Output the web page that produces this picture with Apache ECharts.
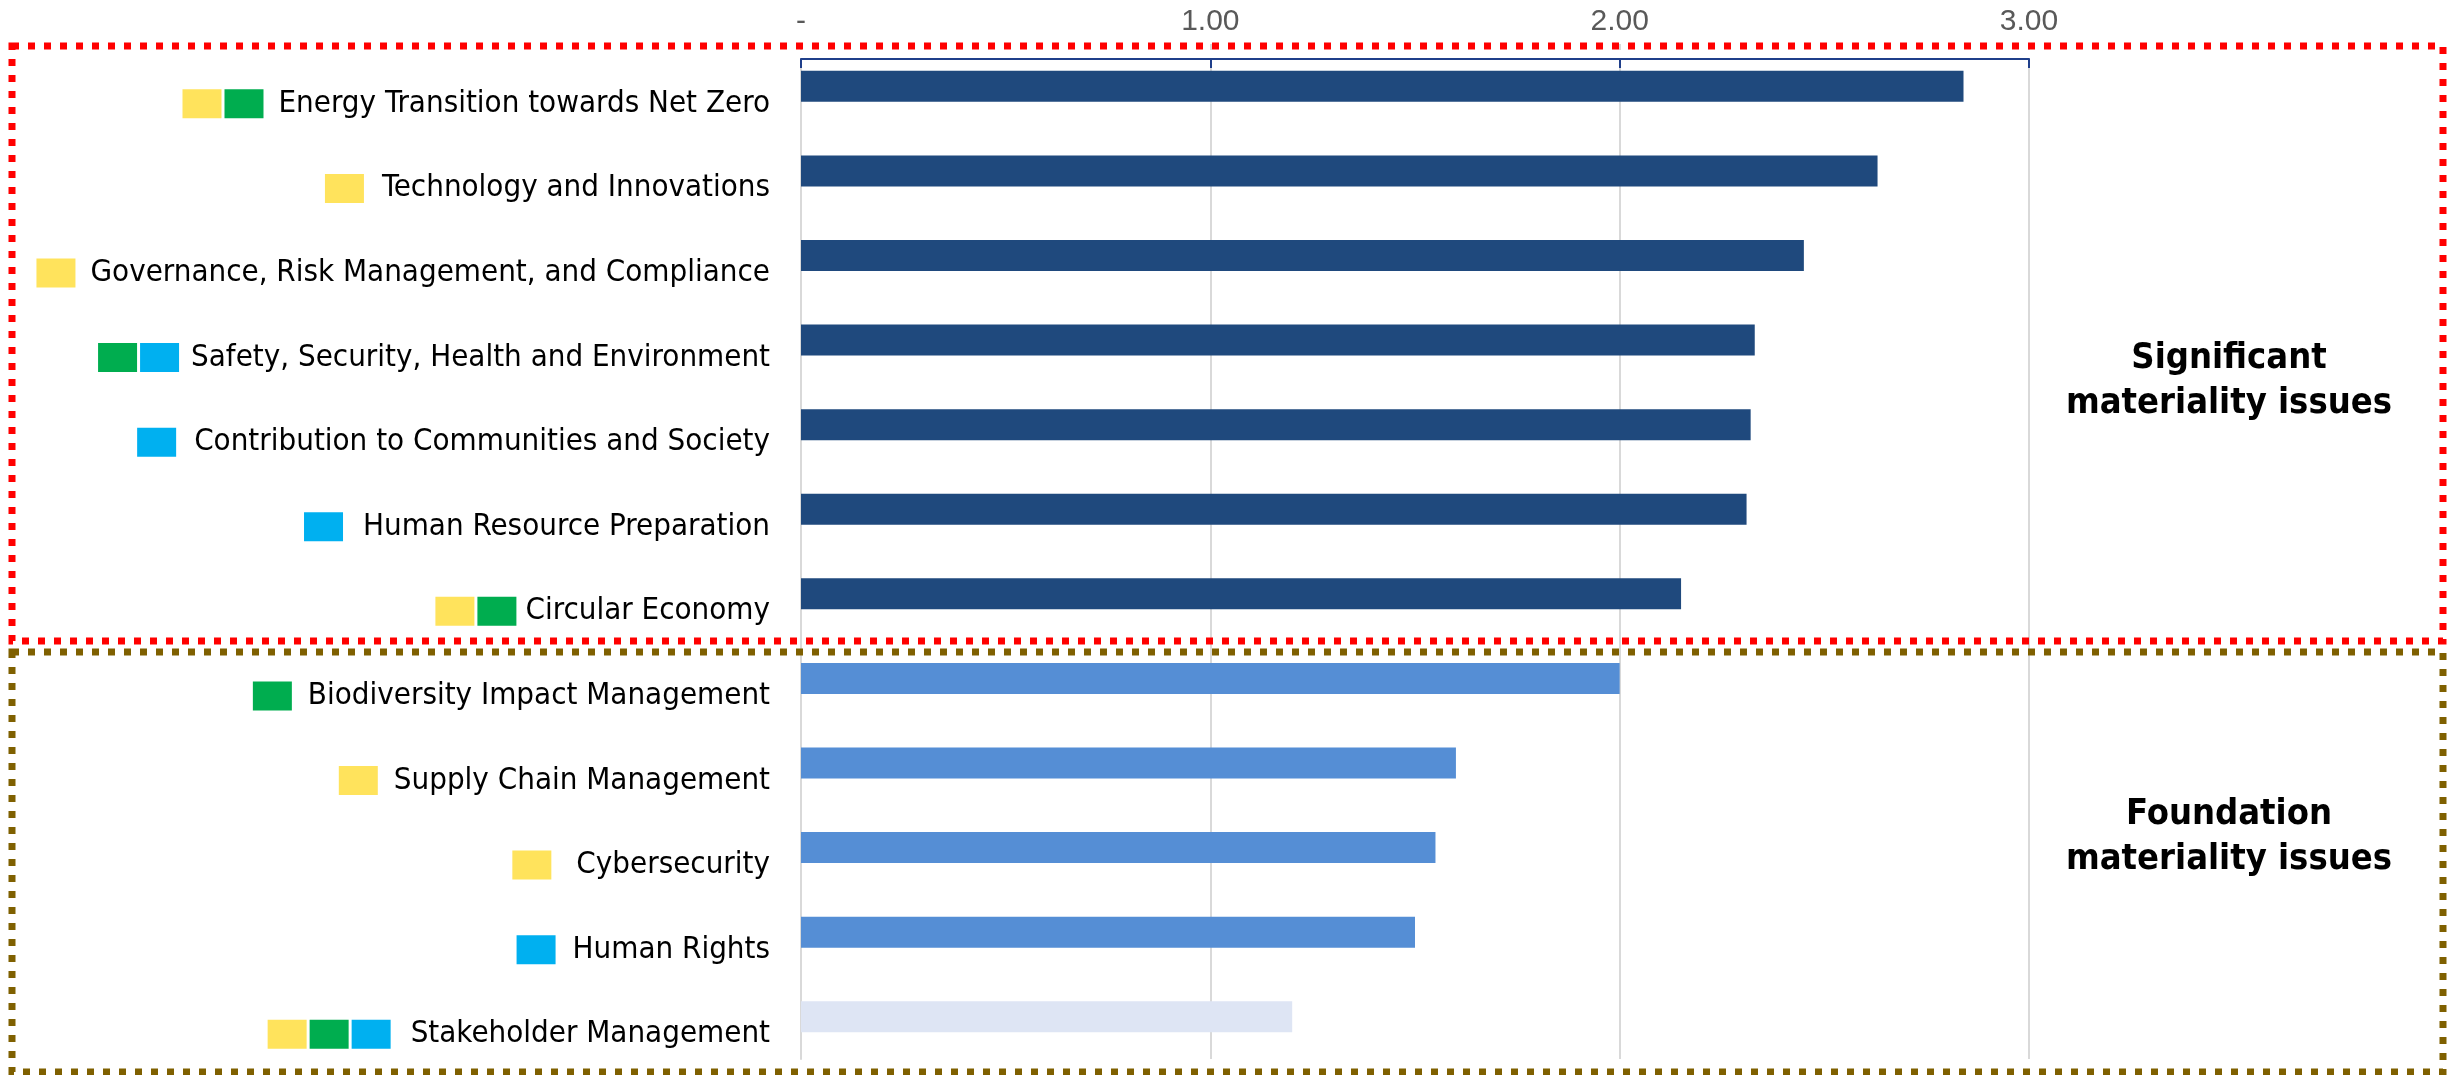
<!DOCTYPE html>
<html>
<head>
<meta charset="utf-8">
<script src="https://cdn.jsdelivr.net/npm/echarts@6/dist/echarts.min.js"></script>
<style>
html,body{margin:0;padding:0;background:#fff;}
#chart{width:2453px;height:1075px;}
</style>
</head>
<body>
<div id="chart"></div>
<script>
// ---------- DATA ----------
const categories = [
  'Energy Transition towards Net Zero',
  'Technology and Innovations',
  'Governance, Risk Management, and Compliance',
  'Safety, Security, Health and Environment',
  'Contribution to Communities and Society',
  'Human Resource Preparation',
  'Circular Economy',
  'Biodiversity Impact Management',
  'Supply Chain Management',
  'Cybersecurity',
  'Human Rights',
  'Stakeholder Management'
];
const scores = [2.84, 2.63, 2.45, 2.33, 2.32, 2.31, 2.15, 2.00, 1.60, 1.55, 1.50, 1.20];
// tier: S = significant, F = foundation, L = lowest foundation
const tiers = ['S','S','S','S','S','S','S','F','F','F','F','L'];
// icon tags: Y = yellow, G = green, B = blue
const icons = [
  ['Y','G'], ['Y'], ['Y'], ['G','B'], ['B'], ['B'], ['Y','G'],
  ['G'], ['Y'], ['Y'], ['B'], ['Y','G','B']
];
const tickValues = [0, 1, 2, 3];
const tickLabels = ['-', '1.00', '2.00', '3.00'];
const groupTitles = ['Significant\nmateriality issues', 'Foundation\nmateriality issues'];

// ---------- STYLE ----------
const tierColor = { S: '#1F497D', F: '#558ED5', L: '#DEE5F4' };
const iconColor = { Y: '#FFE35C', G: '#00AD4F', B: '#00B0F0' };
const labelGap = {
  'Energy Transition towards Net Zero': 15,
  'Technology and Innovations': 18,
  'Governance, Risk Management, and Compliance': 15,
  'Safety, Security, Health and Environment': 12,
  'Contribution to Communities and Society': 18,
  'Human Resource Preparation': 20,
  'Circular Economy': 9,
  'Biodiversity Impact Management': 16,
  'Supply Chain Management': 16,
  'Cybersecurity': 25,
  'Human Rights': 17,
  'Stakeholder Management': 20
};
const LABEL_FONT = '"DejaVu Sans Condensed", "Liberation Sans Narrow", "Liberation Sans", sans-serif';
const labelSize = 31;

const rich = {
  t: { fontSize: labelSize, fontFamily: LABEL_FONT, color: '#000', verticalAlign: 'middle', lineHeight: 40 },
  s: { width: 3, height: 29, verticalAlign: 'middle' }
};
Object.keys(iconColor).forEach(k => {
  rich[k] = { width: 39, height: 29, backgroundColor: iconColor[k], verticalAlign: 'middle' };
});
[9,12,15,16,17,18,20,25].forEach(g => { rich['g' + g] = { width: g, height: 29, verticalAlign: 'middle' }; });

const chart = echarts.init(document.getElementById('chart'), null, { renderer: 'canvas' });

const option = {
  animation: false,
  backgroundColor: '#ffffff',
  grid: { left: 801, right: 424, top: 44, bottom: 16, containLabel: false, outerBoundsMode: 'none' },
  xAxis: {
    type: 'value',
    position: 'top',
    min: 0, max: 3, interval: 1,
    offset: -15,
    axisLine: { show: true, lineStyle: { color: '#1F3F8A', width: 2 } },
    axisTick: { show: true, inside: true, length: 9, lineStyle: { color: '#1F3F8A', width: 2 } },
    splitLine: { show: true, lineStyle: { color: '#D9D9D9', width: 2 } },
    axisLabel: {
      margin: 22,
      fontSize: 30,
      color: '#595959',
      fontFamily: '"Liberation Sans", Arial, sans-serif',
      formatter: v => { const i = tickValues.indexOf(v); return i >= 0 ? tickLabels[i] : ''; }
    }
  },
  yAxis: {
    type: 'category',
    inverse: true,
    data: categories,
    axisLine: { show: true, lineStyle: { color: '#D9D9D9', width: 2 } },
    axisTick: { show: false },
    splitLine: { show: false },
    axisLabel: {
      margin: 31,
      padding: [35, 0, 0, 0],
      formatter: (v, idx) => {
        const ic = icons[idx] || [];
        const parts = ic.map(c => '{' + c + '| }');
        let s = parts.join('{s| }');
        if (ic.length) s += '{g' + (labelGap[v] || 16) + '| }';
        return s + '{t|' + v + '}';
      },
      rich: rich
    }
  },
  series: [{
    type: 'bar',
    barWidth: 31,
    data: scores.map((v, i) => ({ value: v, itemStyle: { color: tierColor[tiers[i]] } })),
    z: 3
  }],
  graphic: [
    { type: 'rect', z: 50, silent: true,
      shape: { x: 790, y: 50, width: 1250, height: 8 }, style: { fill: '#ffffff' } },
    { type: 'rect', z: 100, silent: true,
      shape: { x: 12, y: 46, width: 2431, height: 595 },
      style: { fill: 'none', stroke: '#FF0000', lineWidth: 7, lineDash: [7, 9] } },
    { type: 'rect', z: 100, silent: true,
      shape: { x: 12, y: 652, width: 2431, height: 420 },
      style: { fill: 'none', stroke: '#7F6000', lineWidth: 7, lineDash: [7, 9] } },
    { type: 'text', z: 100, silent: true, x: 2229, y: 381,
      style: { text: groupTitles[0], fill: '#000', font: 'bold 36px ' + LABEL_FONT,
               textAlign: 'center', textVerticalAlign: 'middle', lineHeight: 45 } },
    { type: 'text', z: 100, silent: true, x: 2229, y: 837,
      style: { text: groupTitles[1], fill: '#000', font: 'bold 36px ' + LABEL_FONT,
               textAlign: 'center', textVerticalAlign: 'middle', lineHeight: 45 } }
  ]
};
chart.setOption(option);
</script>
</body>
</html>
